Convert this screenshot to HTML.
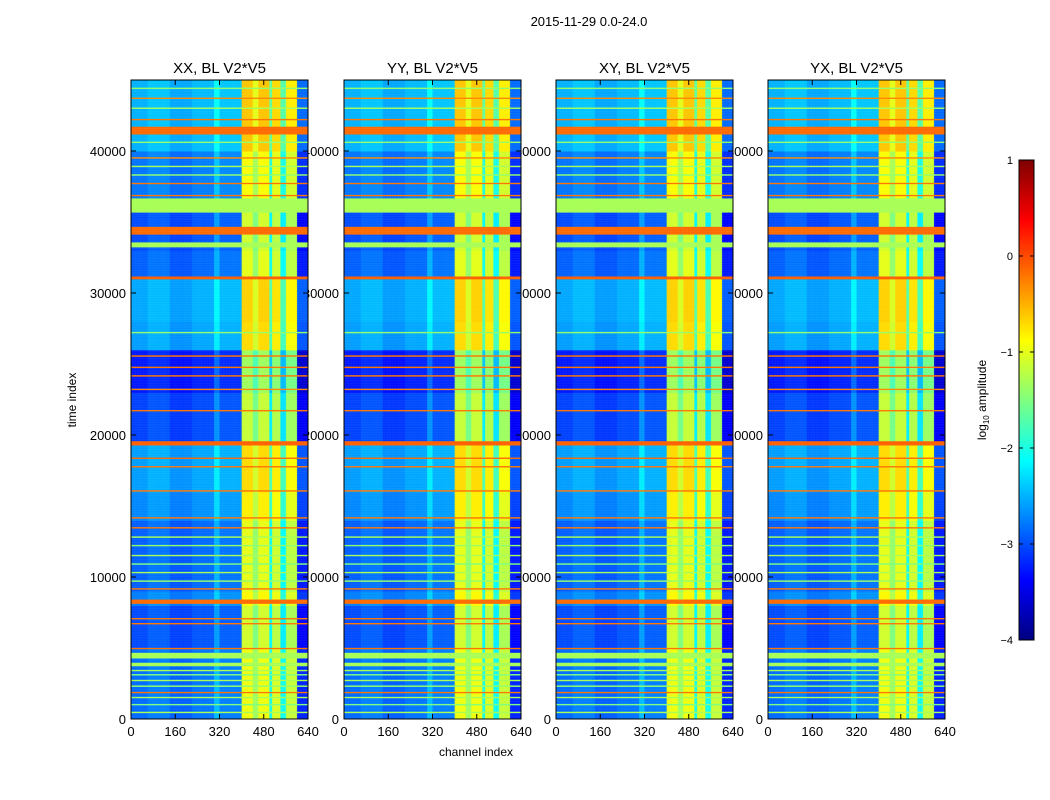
<!DOCTYPE html>
<html><head><meta charset="utf-8"><style>
body{margin:0;background:#fff;width:1050px;height:800px;overflow:hidden;position:relative;font-family:"Liberation Sans",sans-serif}
svg{position:absolute;left:0;top:0}
canvas{position:absolute;image-rendering:pixelated}
</style></head><body>
<svg id="under" width="1050" height="800"></svg>
<canvas id="p0"></canvas>
<canvas id="p1"></canvas>
<canvas id="p2"></canvas>
<canvas id="p3"></canvas>
<canvas id="cb"></canvas>
<svg id="over" width="1050" height="800"></svg>
<script>
// ---- data ----
const panelTitles = ["XX, BL V2*V5","YY, BL V2*V5","XY, BL V2*V5","YX, BL V2*V5"];
const yTicks = [0,10000,20000,30000,40000];
const xTicks = [0,160,320,480,640];
const cbTicks = [1,0,-1,-2,-3,-4];
// background segments [tStart, tEnd, log10 level]
const bgStart = [0,5000,8000,9000,14000,16000,19500,23000,26000,28000,31000,33000,35700,37000,40000];
const bgEnd   = [5000,8000,9000,14000,16000,19500,23000,26000,28000,31000,33000,35700,37000,40000,45000];
const bgLevel = [-2.9,-3.05,-2.8,-2.95,-2.75,-2.65,-3.1,-3.3,-2.65,-2.6,-2.95,-3.05,-2.85,-2.85,-2.55];
// flat rows (RFI lines/bands) [tStart, tEnd, value]
const flatStart = [450,1000,1500,1850,2300,2700,3100,3400,3750,4300,4950,6700,7050,8150,9150,9700,10300,10900,11500,12200,12800,13450,14150,16050,17750,18350,19300,21700,23200,24150,24750,25550,27200,31000,33250,34150,35700,36850,37700,38300,38900,39500,40600,41200,42200,43000,43700,44400];
const flatEnd   = [550,1100,1600,1950,2400,2800,3200,3500,4000,4700,5050,6800,7150,8450,9250,9800,10400,11000,11600,12300,12900,13550,14250,16150,17850,18450,19600,21800,23300,24250,24850,25650,27300,31200,33600,34700,36700,36950,37800,38400,39000,39600,40700,41750,42300,43100,43800,44500];
const flatVal   = [-1.3,-1.5,-1.3,-0.2,-1.4,-1.3,-1.5,-1.3,-1.3,-1.3,-0.2,-0.2,-0.2,-0.15,-0.2,-1.4,-1.3,-1.5,-1.3,-1.4,-1.3,-0.2,-0.2,-0.2,-0.2,-0.15,-0.1,-0.2,-0.3,-0.2,-0.2,-0.2,-1.4,-0.1,-1.3,-0.15,-1.3,-0.2,-0.2,-1.4,-1.3,-0.3,-1.4,-0.15,-0.2,-1.3,-0.3,-1.4];
// channel profile offsets [cStart, cEnd, offset]
const chStart = [0,60,140,220,300,320,400,440,460,500,510,545,560,600];
const chEnd   = [60,140,220,300,320,400,440,460,500,510,545,560,600,640];
const chOff   = [0.05,0.15,0,0.1,0.45,0.15,1.95,1.55,1.95,0.9,1.85,0.85,1.75,-0.3];
// ---- scales ----
const PX=[131,344,556,768], PW=177, PT=80, PB=719;
const tMax=45000, cMax=640;
const yS=t=>PB-t/tMax*(PB-PT);
const xS=(i,c)=>PX[i]+c/cMax*PW;
function jet(v){let n=Math.max(0,Math.min(1,(v+4)/5));
 const f=x=>Math.max(0,Math.min(1,x));
 const r=f(1.5-Math.abs(4*n-3)),g=f(1.5-Math.abs(4*n-2)),b=f(1.5-Math.abs(4*n-1));
 return `rgb(${r*255|0},${g*255|0},${b*255|0})`;}
function valAt(t,c){
 for(let k=0;k<flatStart.length;k++) if(t>=flatStart[k]&&t<flatEnd[k]) return flatVal[k];
 let b=-2.9; for(let k=0;k<bgStart.length;k++) if(t>=bgStart[k]&&t<bgEnd[k]) b=bgLevel[k];
 let o=0; for(let k=0;k<chStart.length;k++) if(c>=chStart[k]&&c<chEnd[k]) o=chOff[k];
 return b+o;}
const NS="http://www.w3.org/2000/svg";
function el(p,tag,a,txt){const e=document.createElementNS(NS,tag);for(const k in a)e.setAttribute(k,a[k]);if(txt!==undefined)e.textContent=txt;p.appendChild(e);return e;}
const U=document.getElementById('under'), O=document.getElementById('over');
let t=el(U,'text',{x:589,y:26,'font-size':13,'text-anchor':'middle'},'2015-11-29 0.0-24.0');

t=el(U,'text',{x:476,y:756,'font-size':12,'text-anchor':'middle'},'channel index');

t=el(U,'text',{x:76,y:400,'font-size':12,'text-anchor':'middle',transform:'rotate(-90 76 400)'},'time index');

const dT=50,dC=10;
for(let i=0;i<4;i++){
 t=el(U,'text',{x:PX[i]+PW/2,y:73,'font-size':15,'text-anchor':'middle'},panelTitles[i]);
 
 yTicks.forEach(v=>{const l=el(U,'text',{x:PX[i]-5,y:yS(v)+5,'font-size':13,'text-anchor':'end'},v);
  
  el(O,'line',{x1:PX[i],x2:PX[i]+5,y1:yS(v),y2:yS(v),stroke:'#000'});
  el(O,'line',{x1:PX[i]+PW,x2:PX[i]+PW-5,y1:yS(v),y2:yS(v),stroke:'#000'});});
 xTicks.forEach(v=>{const l=el(U,'text',{x:xS(i,v),y:736,'font-size':13,'text-anchor':'middle'},v);
  
  el(O,'line',{x1:xS(i,v),x2:xS(i,v),y1:PB,y2:PB-5,stroke:'#000'});
  el(O,'line',{x1:xS(i,v),x2:xS(i,v),y1:PT,y2:PT+5,stroke:'#000'});});
 const fr=el(O,'rect',{x:PX[i],y:PT,width:PW,height:PB-PT,fill:'none',stroke:'#000'});
 
 const cv=document.getElementById('p'+i);cv.width=PW;cv.height=PB-PT;
 cv.style.left=PX[i]+'px';cv.style.top=PT+'px';
 const ctx=cv.getContext('2d');
 for(let tt=0;tt<tMax;tt+=dT){const y0=yS(tt+dT)-PT,y1=yS(tt)-PT;
  for(let c=0;c<cMax;c+=dC){ctx.fillStyle=jet(valAt(tt+dT/2,c+dC/2));
   const x0=xS(i,c)-PX[i],x1=xS(i,c+dC)-PX[i];ctx.fillRect(x0,y0,x1-x0+0.5,y1-y0+0.5);}}
}
// colorbar
const CX=1019,CW=15,CT=160,CB=640;
const cb=document.getElementById('cb');cb.width=CW;cb.height=CB-CT;cb.style.left=CX+'px';cb.style.top=CT+'px';
const cctx=cb.getContext('2d');
for(let y=0;y<CB-CT;y++){cctx.fillStyle=jet(1-y/(CB-CT)*5);cctx.fillRect(0,y,CW,1);}
const cs=v=>CB-(v+4)/5*(CB-CT);
cbTicks.forEach(v=>{const l=el(U,'text',{x:1013,y:cs(v)+4,'font-size':11,'text-anchor':'end'},v<0?'\u2212'+(-v):v);
 
 el(O,'line',{x1:CX,x2:CX+4,y1:cs(v),y2:cs(v),stroke:'#000'});
 el(O,'line',{x1:CX+CW,x2:CX+CW-4,y1:cs(v),y2:cs(v),stroke:'#000'});});
el(O,'rect',{x:CX,y:CT,width:CW,height:CB-CT,fill:'none',stroke:'#000'});
t=el(U,'text',{x:986,y:400,'font-size':12,'text-anchor':'middle',transform:'rotate(-90 986 400)'});

t.innerHTML='log<tspan font-size="8" dy="3">10</tspan><tspan dy="-3"> amplitude</tspan>';
</script>
</body></html>
